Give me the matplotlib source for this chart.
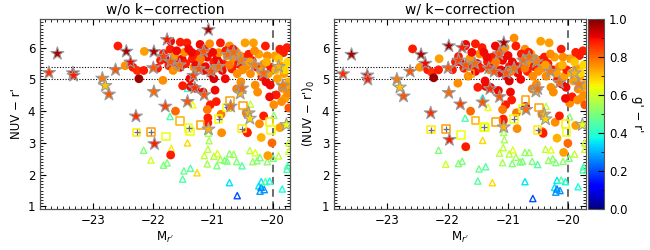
import matplotlib
matplotlib.use("Agg")
import matplotlib.pyplot as plt
from matplotlib.ticker import MultipleLocator
from matplotlib.cm import ScalarMappable
from matplotlib.colors import Normalize

# filled circles: M_r', NUV-r' (raw), (NUV-r')_0 (k-corrected), g'-r'
circ_x = [-22.58, -22.46, -22.33, -22.26, -22.23, -22.15, -22.14, -21.83, -21.82, -21.79,
          -21.73, -21.71, -21.70, -21.66, -21.64, -21.63, -21.54, -21.62, -21.70, -21.54,
          -21.51, -21.47, -21.43, -21.40, -21.38, -21.37, -21.34, -21.31, -21.26, -21.23,
          -21.21, -21.18, -21.15, -21.14, -21.09, -21.08, -21.05, -21.03, -20.98, -20.98,
          -20.96, -20.94, -20.93, -20.90, -20.87, -20.86, -20.84, -20.82, -20.79, -20.76,
          -20.72, -20.71, -20.68, -20.65, -20.62, -20.59, -20.57, -20.53, -20.49, -20.46,
          -20.43, -20.40, -20.44, -20.43, -20.37, -20.34, -20.32, -20.29, -20.26, -20.23,
          -20.22, -20.19, -20.18, -20.15, -20.12, -20.11, -20.09, -20.08, -20.07, -20.04,
          -20.03, -20.01, -19.98, -19.96, -19.94, -19.92, -19.88, -19.87, -19.84, -19.82,
          -19.81, -19.79, -19.76, -19.75, -19.73, -19.75, -19.73, -21.29, -21.04, -21.09,
          -21.08, -20.85, -20.42, -19.88, -21.60, -21.45, -21.35, -21.28, -21.20, -21.12,
          -21.00, -20.95, -20.90, -20.78, -20.72, -20.66, -20.55, -20.50, -20.38, -20.30,
          -20.20, -20.10, -19.95, -19.90, -19.80, -19.77, -21.92, -21.87, -21.50, -20.60,
          -20.25, -20.05, -19.85, -21.16, -20.15]
circ_y = [6.05, 5.43, 5.38, 5.28, 5.02, 5.28, 5.88, 4.97, 5.81, 5.64,
          5.43, 5.95, 6.20, 5.28, 5.54, 5.74, 6.17, 4.00, 2.62, 5.38,
          5.64, 5.85, 6.15, 5.95, 5.02, 4.77, 5.64, 5.38, 5.79, 5.54,
          6.10, 5.84, 5.28, 5.95, 5.70, 3.79, 6.12, 5.18, 5.54, 5.02,
          4.66, 4.30, 5.64, 5.84, 6.15, 3.90, 5.28, 5.48, 5.02, 5.74,
          6.05, 4.12, 5.33, 5.64, 5.89, 5.18, 5.48, 4.92, 5.69, 6.15,
          5.43, 5.79, 3.95, 3.35, 5.18, 5.59, 6.15, 4.82, 5.38, 5.79,
          3.60, 3.17, 5.08, 5.48, 6.05, 4.92, 5.74, 2.60, 5.18, 4.82,
          5.38, 3.00, 4.20, 5.74, 4.51, 5.02, 5.95, 5.43, 4.72, 5.84,
          5.18, 4.41, 6.00, 5.54, 4.92, 4.56, 4.10, 4.72, 4.20, 4.05,
          3.63, 3.32, 3.32, 3.48, 5.90, 5.50, 5.85, 5.45, 5.65, 5.40,
          5.85, 5.35, 5.55, 5.90, 5.45, 5.95, 5.75, 5.30, 5.55, 5.90,
          5.25, 5.55, 5.30, 5.65, 5.30, 4.80, 5.35, 5.60, 4.80, 4.70,
          4.60, 4.45, 4.30, 4.60, 3.85]
circ_yk = [5.96, 5.38, 5.30, 5.22, 5.05, 5.30, 5.65, 4.88, 5.72, 5.55,
           5.35, 6.05, 6.10, 5.10, 5.40, 5.66, 6.12, 4.00, 2.88, 5.25,
           5.50, 5.80, 6.00, 5.85, 4.95, 4.78, 5.55, 5.30, 5.70, 5.45,
           6.05, 5.75, 5.20, 5.85, 5.60, 3.75, 6.00, 5.10, 5.40, 4.95,
           4.60, 4.35, 5.55, 6.30, 6.05, 3.95, 5.20, 5.40, 5.00, 5.65,
           5.95, 4.15, 5.25, 5.55, 5.80, 5.10, 5.40, 4.85, 5.60, 6.20,
           5.35, 5.70, 3.90, 3.35, 5.10, 5.50, 6.15, 4.75, 5.30, 5.70,
           3.65, 3.15, 5.00, 5.40, 5.95, 4.85, 5.70, 2.70, 5.10, 4.75,
           5.30, 2.99, 4.25, 5.65, 4.45, 4.95, 5.85, 5.35, 4.70, 5.75,
           5.10, 4.40, 5.90, 5.45, 4.85, 4.50, 4.20, 4.75, 4.20, 4.05,
           3.70, 3.45, 3.30, 3.55, 5.85, 5.35, 5.70, 5.35, 5.55, 5.30,
           5.75, 5.25, 5.45, 5.80, 5.35, 5.85, 5.65, 5.25, 5.45, 5.80,
           5.20, 5.45, 5.20, 5.55, 5.20, 4.75, 5.30, 5.55, 4.75, 4.70,
           4.60, 4.40, 4.35, 4.65, 3.85]
circ_c = [0.88, 0.75, 0.88, 0.86, 0.97, 0.88, 0.74, 0.76, 0.88, 0.90,
          0.88, 0.88, 0.90, 0.76, 0.88, 0.75, 0.88, 0.80, 0.88, 0.90,
          0.90, 0.76, 0.88, 0.90, 0.90, 0.90, 0.88, 0.76, 0.88, 0.78,
          0.90, 0.88, 0.90, 0.88, 0.90, 0.88, 0.76, 0.90, 0.88, 0.92,
          0.90, 0.88, 0.90, 0.76, 0.88, 0.78, 0.90, 0.88, 0.90, 0.76,
          0.76, 0.90, 0.88, 0.76, 0.74, 0.76, 0.88, 0.76, 0.88, 0.74,
          0.76, 0.88, 0.78, 0.82, 0.76, 0.88, 0.74, 0.76, 0.88, 0.74,
          0.76, 0.72, 0.88, 0.76, 0.88, 0.90, 0.76, 0.74, 0.74, 0.90,
          0.88, 0.80, 0.76, 0.74, 0.88, 0.74, 0.88, 0.74, 0.76, 0.88,
          0.74, 0.74, 0.88, 0.68, 0.72, 0.76, 0.82, 0.90, 0.88, 0.78,
          0.88, 0.76, 0.88, 0.74, 0.90, 0.88, 0.90, 0.90, 0.78, 0.90,
          0.90, 0.78, 0.90, 0.88, 0.78, 0.88, 0.76, 0.76, 0.74, 0.76,
          0.74, 0.72, 0.72, 0.70, 0.68, 0.74, 0.88, 0.88, 0.88, 0.78,
          0.76, 0.90, 0.76, 0.90, 0.88]

# stars
star_x = [-23.73, -23.59, -23.33, -23.32, -22.84, -22.79, -22.73, -22.62, -22.44, -22.37,
          -22.28, -21.98, -21.99, -21.98, -21.97, -21.79, -21.76, -21.42, -21.30, -21.14,
          -21.07, -21.07, -20.70, -20.54, -20.40, -20.38, -19.77, -20.51, -21.82, -21.32,
          -21.03, -20.75, -20.53, -20.15, -19.83, -21.15, -20.65, -21.23, -21.55, -20.90,
          -20.30, -19.90, -21.70]
star_y = [5.21, 5.81, 5.20, 5.12, 5.03, 4.80, 4.53, 5.30, 5.88, 5.54,
          3.84, 5.87, 5.36, 4.61, 2.97, 4.15, 6.25, 4.30, 4.73, 4.51,
          6.56, 3.43, 4.15, 4.56, 3.94, 3.77, 3.57, 4.72, 5.72, 5.12,
          5.25, 5.78, 5.60, 5.20, 4.80, 5.88, 5.85, 5.33, 5.45, 5.40,
          5.45, 5.40, 5.55]
star_yk = [5.17, 5.78, 5.13, 5.00, 5.00, 4.75, 4.47, 5.25, 5.78, 5.50,
           3.94, 6.05, 5.36, 4.58, 3.10, 4.22, 6.00, 4.28, 4.70, 4.45,
           6.15, 3.50, 4.05, 4.62, 3.90, 3.75, 3.57, 4.70, 5.60, 5.35,
           5.20, 5.60, 5.55, 4.90, 4.85, 5.80, 5.70, 5.25, 5.50, 5.35,
           5.25, 5.20, 5.45]
star_c = [0.86, 0.96, 0.90, 0.88, 0.78, 0.70, 0.82, 0.82, 0.96, 0.90,
          0.86, 0.96, 0.82, 0.80, 0.88, 0.84, 0.88, 0.82, 0.86, 0.82,
          0.96, 0.72, 0.80, 0.72, 0.72, 0.68, 0.64, 0.80, 0.84, 0.84,
          0.82, 0.80, 0.78, 0.80, 0.78, 0.82, 0.80, 0.82, 0.80, 0.80,
          0.78, 0.72, 0.82]

# open squares
sq_x = [-21.62, -21.54, -21.20, -21.78, -21.38, -20.71, -20.49, -20.05, -20.03]
sq_y = [5.39, 3.69, 3.56, 3.20, 3.36, 4.34, 4.18, 3.65, 3.40]
sq_yk = [5.18, 3.70, 3.66, 3.25, 3.48, 4.36, 4.12, 3.60, 3.35]
sq_c = [0.74, 0.72, 0.74, 0.64, 0.64, 0.74, 0.74, 0.66, 0.64]

# open squares with a cross
sqp_x = [-22.27, -22.03, -21.40, -20.76, -20.90, -20.51]
sqp_y = [3.33, 3.35, 3.46, 4.12, 3.75, 3.45]
sqp_yk = [3.42, 3.43, 3.50, 4.08, 3.75, 3.40]
sqp_c = [0.66, 0.74, 0.64, 0.64, 0.64, 0.66]

# open triangles
tri_x = [-21.33, -21.71, -20.37, -19.98, -21.42, -22.15, -22.03, -21.69, -21.76, -21.82,
         -21.42, -21.48, -21.37, -21.50, -21.26, -21.14, -21.08, -21.06, -21.07, -21.09,
         -20.98, -20.92, -20.93, -20.87, -20.76, -20.72, -20.65, -20.60, -20.51, -20.38,
         -20.33, -20.29, -20.26, -20.21, -20.09, -19.99, -19.90, -19.73, -19.76, -19.75,
         -20.72, -20.59, -20.23, -20.21, -20.19, -20.14, -20.19, -20.12, -20.05, -19.84,
         -19.73, -20.80]
tri_y = [4.20, 3.83, 4.22, 3.87, 4.72, 2.77, 2.46, 2.82, 2.37, 2.30,
         3.00, 2.12, 2.20, 1.86, 2.06, 2.60, 2.80, 3.07, 3.30, 2.34,
         2.58, 2.67, 2.28, 2.48, 2.43, 2.66, 2.64, 2.41, 2.28, 2.76,
         2.41, 2.69, 2.44, 2.54, 2.41, 2.52, 2.59, 2.74, 2.17, 2.28,
         1.75, 1.34, 1.65, 1.48, 1.60, 1.53, 1.78, 1.78, 1.80, 1.55,
         3.00, 2.45]
tri_yk = [4.12, 3.78, 4.15, 3.82, 4.42, 2.77, 2.33, 2.88, 2.42, 2.35,
          3.08, 2.18, 2.25, 1.80, 1.75, 2.68, 2.85, 3.10, 3.33, 2.38,
          2.65, 2.78, 2.35, 2.55, 2.42, 2.70, 2.70, 2.42, 2.32, 2.80,
          2.45, 2.78, 2.50, 2.38, 2.42, 2.52, 2.65, 2.80, 2.15, 2.25,
          1.78, 1.25, 1.60, 1.45, 1.55, 1.50, 1.82, 1.83, 1.78, 1.62,
          3.00, 2.40]
tri_c = [0.64, 0.44, 0.58, 0.52, 0.38, 0.50, 0.60, 0.66, 0.50, 0.50,
         0.68, 0.48, 0.45, 0.45, 0.68, 0.58, 0.58, 0.55, 0.55, 0.55,
         0.56, 0.62, 0.50, 0.55, 0.50, 0.52, 0.54, 0.50, 0.45, 0.58,
         0.53, 0.62, 0.52, 0.50, 0.52, 0.50, 0.58, 0.60, 0.44, 0.44,
         0.35, 0.20, 0.35, 0.28, 0.25, 0.27, 0.35, 0.45, 0.38, 0.38,
         0.60, 0.50]

cmap = plt.get_cmap("jet")
norm = Normalize(0.0, 1.0)

plt.rcParams["font.family"] = ["DejaVu Sans"]
plt.rcParams["font.size"] = 8.5

fig = plt.figure(figsize=(6.5, 2.5), dpi=100)
ax1 = fig.add_axes([40 / 650, 41 / 250, 250 / 650, 190 / 250])
ax2 = fig.add_axes([334 / 650, 41 / 250, 252 / 650, 190 / 250])
cax = fig.add_axes([588 / 650, 41 / 250, 16 / 650, 190 / 250])


def draw(ax, cy, sy, qy, py, ty, title, ylabel):
    ax.axhline(5.0, color="k", ls=(0, (1, 1.5)), lw=0.8, zorder=1)
    ax.axhline(5.4, color="k", ls=(0, (1, 1.5)), lw=0.8, zorder=1)
    ax.axvline(-20.0, color="#444444", ls=(0, (5, 3)), lw=1.1, zorder=1)
    ax.scatter(tri_x, ty, marker="^", s=20, facecolors="none",
               edgecolors=cmap(norm(tri_c)), linewidths=1.0, zorder=2)
    ax.scatter(circ_x, cy, marker="o", s=40, c=circ_c, cmap=cmap, norm=norm,
               edgecolors="none", zorder=3)
    ax.scatter(sq_x, qy, marker="s", s=30, facecolors="none",
               edgecolors=cmap(norm(sq_c)), linewidths=1.1, zorder=4)
    ax.scatter(sqp_x, py, marker="s", s=30, facecolors="none",
               edgecolors=cmap(norm(sqp_c)), linewidths=1.1, zorder=4)
    ax.scatter(sqp_x, py, marker="+", s=14, color="#6a6a80", linewidths=0.9, zorder=5)
    ax.scatter(star_x, sy, marker="*", s=95, c=star_c, cmap=cmap, norm=norm,
               edgecolors="#9a9a9a", linewidths=0.8, zorder=6)
    ax.set_xlim(-23.88, -19.71)
    ax.set_ylim(0.92, 6.9)
    ax.set_xticks([-23, -22, -21, -20])
    ax.set_yticks([1, 2, 3, 4, 5, 6])
    ax.xaxis.set_minor_locator(MultipleLocator(0.1))
    ax.yaxis.set_minor_locator(MultipleLocator(0.1))
    ax.tick_params(which="both", direction="in", top=True, right=True)
    ax.tick_params(which="major", length=4, width=0.8)
    ax.tick_params(which="minor", length=2, width=0.6)
    ax.set_title(title, fontsize=10, pad=4)
    ax.set_xlabel("M$_{r'}$", fontsize=8.5, labelpad=2)
    ax.set_ylabel(ylabel, fontsize=8.5, labelpad=3)
    for s in ax.spines.values():
        s.set_color("#555555")
        s.set_linewidth(0.9)


draw(ax1, circ_y, star_y, sq_y, sqp_y, tri_y, "w/o k\u2212correction", "NUV \u2212 r'")
draw(ax2, circ_yk, star_yk, sq_yk, sqp_yk, tri_yk, "w/ k\u2212correction", "(NUV \u2212 r')$_0$")

sm = ScalarMappable(norm=norm, cmap=cmap)
cb = fig.colorbar(sm, cax=cax)
cb.set_ticks([0.0, 0.2, 0.4, 0.6, 0.8, 1.0])
cb.ax.set_yticklabels(["0.0", "0.2", "0.4", "0.6", "0.8", "1.0"])
cb.ax.yaxis.set_minor_locator(MultipleLocator(0.1))
cb.ax.tick_params(which="both", direction="in", right=True, left=False)
cb.ax.tick_params(which="major", length=4)
cb.ax.tick_params(which="minor", length=2)
cb.outline.set_edgecolor("#555555")
cb.set_label("g' \u2212 r'", rotation=270, fontsize=8.5, labelpad=12)

fig.savefig("out.png", dpi=100)
